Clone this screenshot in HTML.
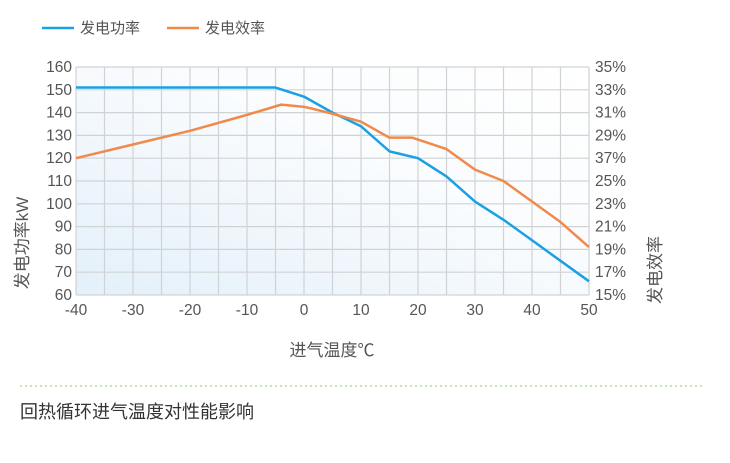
<!DOCTYPE html>
<html><head><meta charset="utf-8"><style>
body{margin:0;background:#fff;width:730px;height:458px;overflow:hidden;font-family:"Liberation Sans","Noto Sans CJK SC",sans-serif;}
svg text{font-family:"Liberation Sans","Noto Sans CJK SC",sans-serif;fill:#555;}
</style></head><body>
<svg width="730" height="458">
<defs><linearGradient id="bg" x1="0" y1="1" x2="1" y2="0"><stop offset="0" stop-color="#e3f0fa"/><stop offset="0.6" stop-color="#fafcfe"/><stop offset="1" stop-color="#ffffff"/></linearGradient></defs>
<g id="legend">
<line x1="42" y1="28" x2="74" y2="28" stroke="#1ba1e2" stroke-width="2.5"/>
<text x="80" y="33" font-size="15">发电功率</text>
<line x1="167" y1="28" x2="199" y2="28" stroke="#f08a4b" stroke-width="2.5"/>
<text x="205" y="33" font-size="15">发电效率</text>
</g>
<rect x="76" y="67" width="513" height="228" fill="url(#bg)"/>
<g id="grid"></g><g id="axes"></g><g id="lines"></g>
<text x="332" y="356" font-size="17" text-anchor="middle">进气温度℃</text>
<text transform="translate(28,243) rotate(-90)" font-size="17" text-anchor="middle">发电功率kW</text>
<text transform="translate(661,270) rotate(-90)" font-size="17" text-anchor="middle">发电效率</text>
<line x1="20" y1="386" x2="703" y2="386" stroke="#c9e6b0" stroke-width="2" stroke-dasharray="2,3"/>
<text x="20" y="418" font-size="18" fill="#333" style="fill:#333">回热循环进气温度对性能影响</text>
</svg>
<script>
const xTicks=[-40,-30,-20,-10,0,10,20,30,40,50];
const yTicks=[60,70,80,90,100,110,120,130,140,150,160];
const y2Labels=["15%","17%","19%","21%","23%","25%","37%","29%","31%","33%","35%"];
const powerX=[-40,-5,0,5,10,15,20,25,30,35,40,45,50];
const powerY=[151,151,147,140,134,123,120,112,101,93,84,75,66];
const effX=[-40,-30,-20,-10,-4,0,1,5,10,15,19,25,30,35,40,45,50];
const effY=[27,28.2,29.4,30.8,31.7,31.5,31.4,30.9,30.2,28.8,28.8,27.8,26,25,23.2,21.4,19.2];
const X0=76,X1=589,Y0=295,Y1=67;
const sx=v=>X0+(v+40)/90*(X1-X0);
const sy=v=>Y0-(v-60)/100*(Y0-Y1);
const sy2=p=>sy(60+(p-15)*5);
const NS="http://www.w3.org/2000/svg";
function mk(tag,attrs,parent){const e=document.createElementNS(NS,tag);for(const k in attrs)e.setAttribute(k,attrs[k]);document.getElementById(parent).appendChild(e);return e;}
for(let t=-40;t<=50;t+=5){const l=mk('line',{x1:sx(t),x2:sx(t),y1:Y1,y2:Y0,stroke:'#d0d3d6','stroke-width':1.2},'grid');

}
yTicks.forEach((v,i)=>{const l=mk('line',{x1:X0,x2:X1,y1:sy(v),y2:sy(v),stroke:'#d0d3d6','stroke-width':1.2},'grid');


const t=mk('text',{x:X0-4,y:sy(v)+5,'font-size':15.5,'text-anchor':'end'},'axes');t.textContent=v;


const t2=mk('text',{x:X1+6,y:sy(v)+5,'font-size':15.5},'axes');t2.textContent=y2Labels[i];

});
xTicks.forEach(v=>{const t=mk('text',{x:sx(v),y:Y0+20,'font-size':15.5,'text-anchor':'middle'},'axes');t.textContent=v;

});
const p1=mk('polyline',{points:powerX.map((x,i)=>sx(x)+','+sy(powerY[i])).join(' '),fill:'none',stroke:'#1ba1e2','stroke-width':2.5,'stroke-linejoin':'round'},'lines');


const p2=mk('polyline',{points:effX.map((x,i)=>sx(x)+','+sy2(effY[i])).join(' '),fill:'none',stroke:'#f08a4b','stroke-width':2.5,'stroke-linejoin':'round'},'lines');


</script>
</body></html>
